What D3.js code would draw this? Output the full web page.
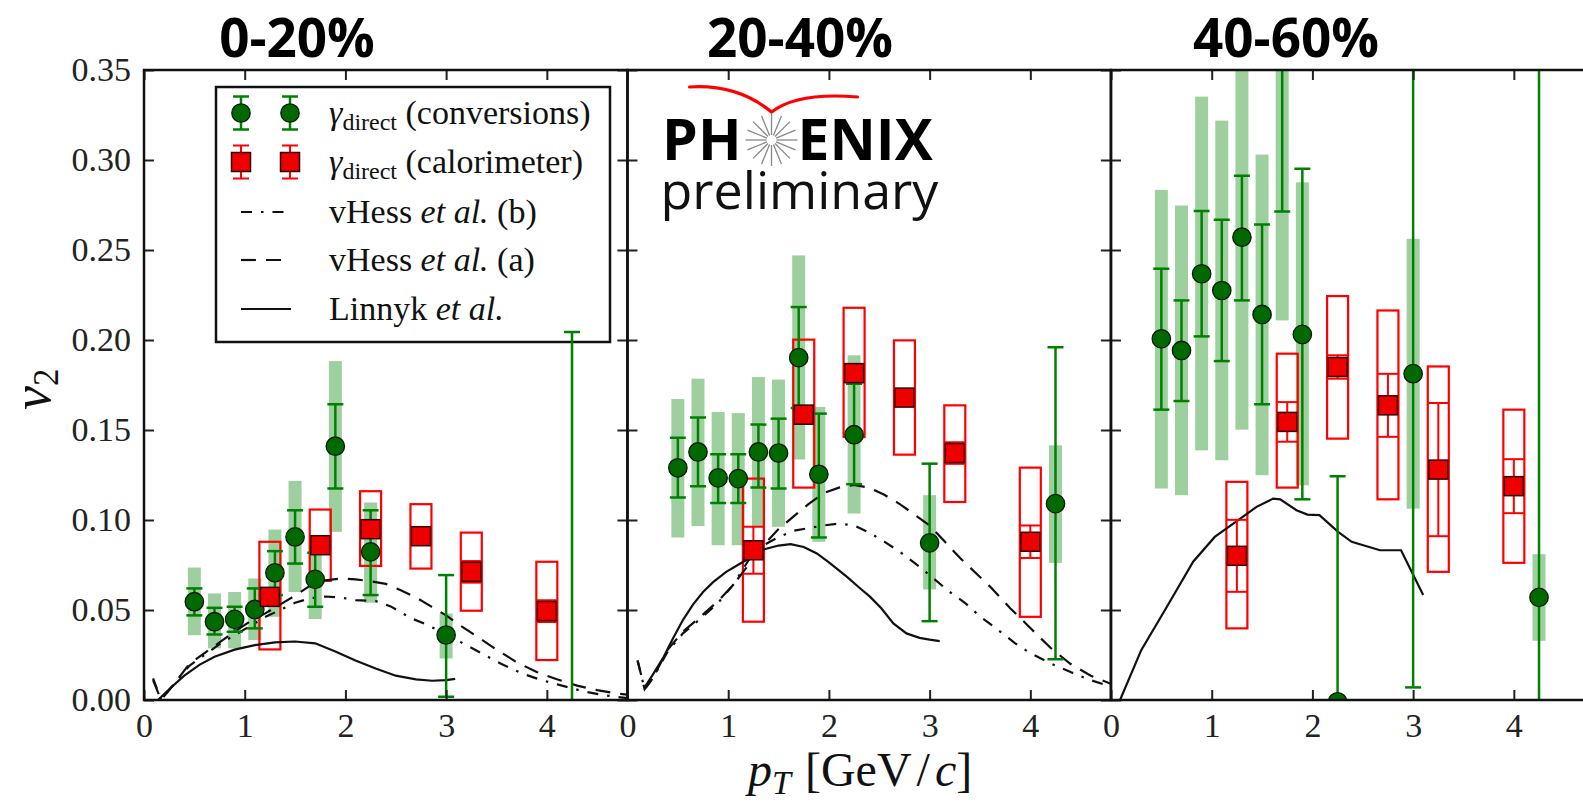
<!DOCTYPE html>
<html>
<head>
<meta charset="utf-8">
<script src="https://cdn.jsdelivr.net/npm/d3@7"></script>
<style>
  body { margin: 0; background: #fff; }
  svg { display: block; }
</style>
</head>
<body>
<svg id="chart" width="1583" height="803"></svg>
<script>
// ---- data (v2 vs pT, three centrality classes) ----
var panelTitles = ['0-20%', '20-40%', '40-60%'];
var xTicks = [0, 1, 2, 3, 4];
var yTicks = [0, 0.05, 0.10, 0.15, 0.20, 0.25, 0.30, 0.35];

// gamma direct, conversions (green circles)
var convPt = [
  [0.5, 0.7, 0.9, 1.1, 1.3, 1.5, 1.7, 1.9, 2.25, 3.0, 4.25],
  [0.5, 0.7, 0.9, 1.1, 1.3, 1.5, 1.7, 1.9, 2.25, 3.0, 4.25],
  [0.5, 0.7, 0.9, 1.1, 1.3, 1.5, 1.7, 1.9, 2.25, 3.0, 4.25]
];
var convV = [
  [0.0546, 0.0435, 0.0448, 0.0503, 0.0707, 0.0906, 0.067, 0.141, 0.0823, 0.0361, -0.05],
  [0.129, 0.1378, 0.1234, 0.123, 0.1378, 0.1372, 0.1902, 0.1254, 0.1474, 0.0873, 0.1091],
  [0.2007, 0.1942, 0.2368, 0.2275, 0.2571, 0.2142, 0.39, 0.2031, -0.001, 0.1813, 0.057]
];
var convStatLo = [
  [0.047, 0.0364, 0.0379, 0.0398, 0.0583, 0.0758, 0.0518, 0.1175, 0.0583, 0.0018, -0.3],
  [0.1125, 0.1188, 0.1095, 0.1095, 0.118, 0.1175, 0.1622, 0.0903, 0.1199, 0.0438, 0.0226],
  [0.1613, 0.1661, 0.202, 0.1883, 0.222, 0.1643, 0.2714, 0.1115, -0.126, 0.007, -0.3]
];
var convStatHi = [
  [0.062, 0.0512, 0.0518, 0.062, 0.0827, 0.1054, 0.0818, 0.1643, 0.1054, 0.0694, 0.2044],
  [0.1457, 0.1569, 0.1365, 0.1365, 0.153, 0.1563, 0.2183, 0.1591, 0.1757, 0.1313, 0.196],
  [0.2396, 0.222, 0.2716, 0.2668, 0.2913, 0.2642, 0.51, 0.2951, 0.1243, 0.36, 0.5]
];
var convSysLo = [
  [0.036, 0.0287, 0.0287, 0.0333, 0.0462, 0.060, 0.045, 0.0934, 0.054, 0.0231, -0.08],
  [0.0903, 0.0966, 0.086, 0.086, 0.0962, 0.0962, 0.1336, 0.0879, 0.1036, 0.0614, 0.0762],
  [0.1175, 0.1138, 0.1387, 0.1332, 0.1502, 0.1249, 0.2109, 0.1193, -0.001, 0.1063, 0.0329]
];
var convSysHi = [
  [0.0736, 0.0592, 0.060, 0.0675, 0.0947, 0.1217, 0.082, 0.1883, 0.1097, 0.048, -0.02],
  [0.1672, 0.1785, 0.16, 0.1594, 0.1794, 0.178, 0.247, 0.1628, 0.1915, 0.1138, 0.1415],
  [0.2834, 0.2747, 0.3352, 0.3219, 0.37, 0.303, 0.57, 0.2876, -0.001, 0.2562, 0.081]
];

// gamma direct, calorimeter (red squares)
var caloPt = [
  [1.25, 1.75, 2.25, 2.75, 3.25, 4.0],
  [1.25, 1.75, 2.25, 2.75, 3.25, 4.0],
  [1.25, 1.75, 2.25, 2.75, 3.25, 4.0]
];
var caloV = [
  [0.0573, 0.086, 0.0949, 0.091, 0.0712, 0.0494],
  [0.0832, 0.1585, 0.1816, 0.168, 0.1372, 0.0879],
  [0.0801, 0.1545, 0.185, 0.1637, 0.128, 0.1188]
];
var caloStat = [
  [0.004, 0.004, 0.004, 0.004, 0.006, 0.006],
  [0.013, 0.005, 0.005, 0.004, 0.006, 0.009],
  [0.02, 0.011, 0.0065, 0.0175, 0.037, 0.015]
];
var caloSysLo = [
  [0.0281, 0.0662, 0.0745, 0.073, 0.0496, 0.0222],
  [0.0435, 0.118, 0.1461, 0.1363, 0.110, 0.0462],
  [0.0398, 0.118, 0.1452, 0.1115, 0.0712, 0.0762]
];
var caloSysHi = [
  [0.0879, 0.1058, 0.116, 0.1088, 0.093, 0.0768],
  [0.123, 0.2002, 0.2179, 0.1998, 0.1637, 0.1291],
  [0.1212, 0.1924, 0.2244, 0.2164, 0.1853, 0.1613]
];

// model curves [pT, v2]
var linnyk = [
  [[0.14, 0], [0.25, 0.006], [0.4, 0.0135], [0.55, 0.0195], [0.7, 0.024], [0.9, 0.028], [1.1, 0.0305],
   [1.3, 0.032], [1.5, 0.0325], [1.7, 0.0315], [1.9, 0.027], [2.1, 0.022], [2.3, 0.0175], [2.5, 0.0135],
   [2.7, 0.0115], [2.86, 0.0107], [3.0, 0.011], [3.09, 0.0117]],
  [[0.17, 0.007], [0.25, 0.014], [0.36, 0.024], [0.45, 0.034], [0.55, 0.0444], [0.65, 0.053], [0.75, 0.06],
   [0.85, 0.0655], [0.98, 0.0712], [1.15, 0.0768], [1.35, 0.0836], [1.5, 0.0858], [1.62, 0.0866],
   [1.75, 0.085], [1.88, 0.0814], [2.0, 0.0765], [2.18, 0.0684], [2.3, 0.0625], [2.41, 0.0573],
   [2.52, 0.051], [2.64, 0.0425], [2.77, 0.037], [2.9, 0.0345], [3.0, 0.0335], [3.1, 0.0327]],
  [[0.09, 0], [0.3, 0.0277], [0.536, 0.05], [0.816, 0.0768], [1.03, 0.0906], [1.263, 0.0999],
   [1.445, 0.1073], [1.61, 0.1119], [1.68, 0.1115], [1.842, 0.1054], [1.95, 0.103], [2.07, 0.1027],
   [2.255, 0.0934], [2.39, 0.0879], [2.67, 0.0832], [2.88, 0.0832], [3.1, 0.0583]]
];
var vHessA = [
  [[0.09, 0.011], [0.17, 0.0], [0.3, 0.009], [0.45, 0.02], [0.6, 0.026], [0.75, 0.032], [0.9, 0.038],
   [1.05, 0.0435], [1.2, 0.048], [1.35, 0.053], [1.5, 0.058], [1.65, 0.0635], [1.8, 0.0665], [1.95, 0.0675],
   [2.1, 0.067], [2.25, 0.066], [2.4, 0.0645], [2.55, 0.061], [2.7, 0.057], [2.85, 0.052], [3.0, 0.047],
   [3.15, 0.041], [3.3, 0.0355], [3.5, 0.028], [3.7, 0.021], [3.9, 0.0155], [4.1, 0.0115], [4.3, 0.008],
   [4.5, 0.0055], [4.7, 0.0035], [4.8, 0.003]],
  [[0.1, 0.022], [0.17, 0.006], [0.25, 0.012], [0.4, 0.028], [0.55, 0.038], [0.7, 0.045], [0.9, 0.055],
   [1.05, 0.064], [1.2, 0.075], [1.35, 0.086], [1.5, 0.095], [1.65, 0.102], [1.8, 0.109], [1.95, 0.115],
   [2.1, 0.118], [2.25, 0.1195], [2.4, 0.118], [2.55, 0.114], [2.7, 0.109], [2.85, 0.103], [3.0, 0.097],
   [3.15, 0.088], [3.3, 0.079], [3.45, 0.071], [3.6, 0.063], [3.8, 0.051], [4.0, 0.04], [4.2, 0.029],
   [4.4, 0.02], [4.6, 0.0135], [4.8, 0.009]],
  []
];
var vHessB = [
  [[0.09, 0.012], [0.17, 0.0], [0.3, 0.009], [0.45, 0.019], [0.6, 0.025], [0.75, 0.031], [0.9, 0.036],
   [1.05, 0.041], [1.2, 0.046], [1.35, 0.05], [1.5, 0.054], [1.65, 0.0565], [1.8, 0.0575], [1.95, 0.057],
   [2.1, 0.0555], [2.3, 0.055], [2.45, 0.052], [2.65, 0.0455], [2.8, 0.042], [2.95, 0.038], [3.15, 0.032],
   [3.35, 0.026], [3.55, 0.02], [3.75, 0.0148], [3.95, 0.011], [4.15, 0.008], [4.35, 0.005],
   [4.55, 0.0028], [4.8, 0.001]],
  [[0.1, 0.022], [0.17, 0.006], [0.25, 0.012], [0.4, 0.027], [0.55, 0.037], [0.7, 0.044], [0.9, 0.054],
   [1.05, 0.064], [1.2, 0.0775], [1.35, 0.086], [1.5, 0.0905], [1.65, 0.094], [1.8, 0.0955], [1.95, 0.097],
   [2.1, 0.098], [2.25, 0.097], [2.4, 0.093], [2.55, 0.088], [2.7, 0.0825], [2.9, 0.074], [3.05, 0.067],
   [3.2, 0.06], [3.35, 0.054], [3.5, 0.0465], [3.7, 0.038], [3.85, 0.0315], [4.0, 0.026], [4.2, 0.0204],
   [4.4, 0.0155], [4.6, 0.011], [4.8, 0.0075]],
  []
];

// ---- layout ----
var plotTop = 70, plotBottom = 700;
var panelLeft = [144, 627.5, 1111];
var panelWidth = 483.4;
var titleCenter = [297, 800, 1286];

var GREEN = '#008000', DARKGREEN = '#006a00', RED = '#ff0000';
var SERIF = '"Liberation Serif", "DejaVu Serif", serif';
var SANS = '"Open Sans", "DejaVu Sans", sans-serif';

var svg = d3.select('#chart');
var defs = svg.append('defs');

var y = d3.scaleLinear().domain([0, 0.35]).range([plotBottom, plotTop]);

// ---- legend (drawn first, the data sits on top of it) ----
var leg = svg.append('g');
leg.append('rect').attr('x', 216).attr('y', 87).attr('width', 394).attr('height', 255)
  .attr('fill', '#fff').attr('stroke', '#111').attr('stroke-width', 2.5);

var legRows = [113, 162, 212, 260, 309];
var legMarkX = [241, 290];

legMarkX.forEach(function(mx) {
  // green circle with error bar
  [[mx, mx, legRows[0] - 16.5, legRows[0] + 16.5], [mx - 8, mx + 8, legRows[0] - 16.5, legRows[0] - 16.5],
   [mx - 8, mx + 8, legRows[0] + 16.5, legRows[0] + 16.5]].forEach(function(l) {
    leg.append('line').attr('x1', l[0]).attr('x2', l[1]).attr('y1', l[2]).attr('y2', l[3])
      .attr('stroke', GREEN).attr('stroke-width', 2.5);
  });
  leg.append('circle').attr('cx', mx).attr('cy', legRows[0]).attr('r', 9.2)
    .attr('fill', DARKGREEN).attr('stroke', '#0a1a0a').attr('stroke-width', 1.3);
  // red square with error bar
  [[mx, mx, legRows[1] - 16.5, legRows[1] + 16.5], [mx - 8, mx + 8, legRows[1] - 16.5, legRows[1] - 16.5],
   [mx - 8, mx + 8, legRows[1] + 16.5, legRows[1] + 16.5]].forEach(function(l) {
    leg.append('line').attr('x1', l[0]).attr('x2', l[1]).attr('y1', l[2]).attr('y2', l[3])
      .attr('stroke', RED).attr('stroke-width', 2);
  });
  leg.append('rect').attr('x', mx - 9.5).attr('y', legRows[1] - 9.5).attr('width', 19).attr('height', 19)
    .attr('fill', '#ee0000').attr('stroke', '#300').attr('stroke-width', 1.5);
});

var legDash = [['11,9,2.5,9', 2], ['15,10', 3], [null, 4]];
legDash.forEach(function(d) {
  var l = leg.append('line').attr('x1', 241).attr('x2', 291)
    .attr('y1', legRows[d[1]]).attr('y2', legRows[d[1]])
    .attr('stroke', '#111').attr('stroke-width', 2.2);
  if (d[0]) l.attr('stroke-dasharray', d[0]);
});

function legText(row) {
  return leg.append('text').attr('x', 329).attr('y', legRows[row] + 11)
    .attr('font-family', SERIF).attr('font-size', 34).attr('fill', '#111');
}
var t0 = legText(0);
t0.append('tspan').attr('font-style', 'italic').text('\u03b3');
t0.append('tspan').attr('font-size', 24).attr('dy', 6).text('direct');
t0.append('tspan').attr('dy', -6).text(' (conversions)');
var t1 = legText(1);
t1.append('tspan').attr('font-style', 'italic').text('\u03b3');
t1.append('tspan').attr('font-size', 24).attr('dy', 6).text('direct');
t1.append('tspan').attr('dy', -6).text(' (calorimeter)');
var t2 = legText(2);
t2.append('tspan').text('vHess ');
t2.append('tspan').attr('font-style', 'italic').text('et al.');
t2.append('tspan').text(' (b)');
var t3 = legText(3);
t3.append('tspan').text('vHess ');
t3.append('tspan').attr('font-style', 'italic').text('et al.');
t3.append('tspan').text(' (a)');
var t4 = legText(4);
t4.append('tspan').text('Linnyk ');
t4.append('tspan').attr('font-style', 'italic').text('et al.');

panelTitles.forEach(function(title, p) {
  var x = d3.scaleLinear().domain([0, 4.8]).range([panelLeft[p], panelLeft[p] + panelWidth]);

  defs.append('clipPath').attr('id', 'clip' + p)
    .append('rect')
    .attr('x', x(0)).attr('y', plotTop)
    .attr('width', panelWidth).attr('height', plotBottom - plotTop);

  var g = svg.append('g').attr('clip-path', 'url(#clip' + p + ')');

  var conv = convPt[p].map(function(d, i) {
    return { pt: d, v: convV[p][i], lo: convStatLo[p][i], hi: convStatHi[p][i],
             slo: convSysLo[p][i], shi: convSysHi[p][i] };
  });
  var calo = caloPt[p].map(function(d, i) {
    return { pt: d, v: caloV[p][i], e: caloStat[p][i], slo: caloSysLo[p][i], shi: caloSysHi[p][i] };
  });

  // systematic bands, conversions
  g.selectAll('.band').data(conv).enter().append('rect')
    .attr('x', function(d) { return x(d.pt) - 6.5; })
    .attr('width', 13)
    .attr('y', function(d) { return y(d.shi); })
    .attr('height', function(d) { return y(d.slo) - y(d.shi); })
    .attr('fill', 'rgba(0,128,0,0.38)');

  // systematic boxes, calorimeter
  g.selectAll('.sysbox').data(calo).enter().append('rect')
    .attr('x', function(d) { return x(d.pt) - 10.5; })
    .attr('width', 21)
    .attr('y', function(d) { return y(d.shi); })
    .attr('height', function(d) { return y(d.slo) - y(d.shi); })
    .attr('fill', 'none').attr('stroke', RED).attr('stroke-width', 2.2);

  // model curves
  var line = d3.line()
    .x(function(d) { return x(d[0]); })
    .y(function(d) { return y(d[1]); });

  g.append('path').datum(linnyk[p]).attr('d', line)
    .attr('fill', 'none').attr('stroke', '#111').attr('stroke-width', 2.2);
  if (vHessA[p].length) {
    g.append('path').datum(vHessA[p]).attr('d', line)
      .attr('fill', 'none').attr('stroke', '#111').attr('stroke-width', 2.2)
      .attr('stroke-dasharray', '15,10');
  }
  if (vHessB[p].length) {
    g.append('path').datum(vHessB[p]).attr('d', line)
      .attr('fill', 'none').attr('stroke', '#111').attr('stroke-width', 2.2)
      .attr('stroke-dasharray', '11,9,2.5,9');
  }

  // stat error bars, conversions
  var eb = g.selectAll('.ebg').data(conv).enter().append('g');
  eb.append('line')
    .attr('x1', function(d) { return x(d.pt); }).attr('x2', function(d) { return x(d.pt); })
    .attr('y1', function(d) { return y(d.lo); }).attr('y2', function(d) { return y(d.hi); });
  eb.append('line')
    .attr('x1', function(d) { return x(d.pt) - 8; }).attr('x2', function(d) { return x(d.pt) + 8; })
    .attr('y1', function(d) { return y(d.lo); }).attr('y2', function(d) { return y(d.lo); });
  eb.append('line')
    .attr('x1', function(d) { return x(d.pt) - 8; }).attr('x2', function(d) { return x(d.pt) + 8; })
    .attr('y1', function(d) { return y(d.hi); }).attr('y2', function(d) { return y(d.hi); });
  eb.selectAll('line').attr('stroke', GREEN).attr('stroke-width', 2.5);

  // stat error bars, calorimeter
  var ebr = g.selectAll('.ebr').data(calo).enter().append('g');
  ebr.append('line')
    .attr('x1', function(d) { return x(d.pt); }).attr('x2', function(d) { return x(d.pt); })
    .attr('y1', function(d) { return y(d.v - d.e); }).attr('y2', function(d) { return y(d.v + d.e); });
  ebr.append('line')
    .attr('x1', function(d) { return x(d.pt) - 10; }).attr('x2', function(d) { return x(d.pt) + 10; })
    .attr('y1', function(d) { return y(d.v - d.e); }).attr('y2', function(d) { return y(d.v - d.e); });
  ebr.append('line')
    .attr('x1', function(d) { return x(d.pt) - 10; }).attr('x2', function(d) { return x(d.pt) + 10; })
    .attr('y1', function(d) { return y(d.v + d.e); }).attr('y2', function(d) { return y(d.v + d.e); });
  ebr.selectAll('line').attr('stroke', RED).attr('stroke-width', 2);

  // markers
  g.selectAll('.dot').data(conv).enter().append('circle')
    .attr('cx', function(d) { return x(d.pt); })
    .attr('cy', function(d) { return y(d.v); })
    .attr('r', 9.2)
    .attr('fill', DARKGREEN).attr('stroke', '#0a1a0a').attr('stroke-width', 1.3);

  g.selectAll('.sq').data(calo).enter().append('rect')
    .attr('x', function(d) { return x(d.pt) - 9.5; })
    .attr('y', function(d) { return y(d.v) - 9.5; })
    .attr('width', 19).attr('height', 19)
    .attr('fill', '#ee0000').attr('stroke', '#300').attr('stroke-width', 1.5);

  // axes, ticks pointing inwards
  var ax = svg.append('g').attr('transform', 'translate(0,' + plotBottom + ')')
    .call(d3.axisBottom(x).tickValues(xTicks).tickSize(-10).tickSizeOuter(0).tickPadding(13)
      .tickFormat(d3.format('d')));
  ax.select('.domain').remove();
  ax.selectAll('text').attr('font-family', SERIF).attr('font-size', 34).attr('fill', '#222');

  var axt = svg.append('g').attr('transform', 'translate(0,' + plotTop + ')')
    .call(d3.axisTop(x).tickValues(xTicks).tickSize(-10).tickSizeOuter(0).tickFormat(''));
  axt.select('.domain').remove();

  var ayl = svg.append('g').attr('transform', 'translate(' + x(0) + ',0)')
    .call(d3.axisLeft(y).tickValues(yTicks).tickSize(-10).tickSizeOuter(0).tickPadding(13)
      .tickFormat(p === 0 ? d3.format('.2f') : function() { return ''; }));
  ayl.select('.domain').remove();
  ayl.selectAll('text').attr('font-family', SERIF).attr('font-size', 34).attr('fill', '#222');

  var ayr = svg.append('g').attr('transform', 'translate(' + x(4.8) + ',0)')
    .call(d3.axisRight(y).tickValues(yTicks).tickSize(-10).tickSizeOuter(0).tickFormat(''));
  ayr.select('.domain').remove();

  svg.selectAll('.tick line').attr('stroke', '#222').attr('stroke-width', 2);

  svg.append('rect')
    .attr('x', x(0)).attr('y', plotTop)
    .attr('width', panelWidth).attr('height', plotBottom - plotTop)
    .attr('fill', 'none').attr('stroke', '#111').attr('stroke-width', 2.5);

  // centrality title
  svg.append('text')
    .attr('x', titleCenter[p]).attr('y', 57)
    .attr('text-anchor', 'middle')
    .attr('font-family', SANS).attr('font-weight', 700).attr('font-size', 53)
    .attr('fill', '#000')
    .text(title);
});

// ---- axis labels ----
var xl = svg.append('text').attr('x', 748).attr('y', 786)
  .attr('font-family', SERIF).attr('font-size', 48).attr('fill', '#111');
xl.append('tspan').attr('font-style', 'italic').text('p');
xl.append('tspan').attr('font-style', 'italic').attr('font-size', 34).attr('dy', 8).text('T');
xl.append('tspan').attr('dy', -8).attr('dx', 14).text('[GeV');
xl.append('tspan').attr('dx', 5).text('/');
xl.append('tspan').attr('font-style', 'italic').attr('dx', 5).text('c');
xl.append('tspan').text(']');

var yl = svg.append('text').attr('transform', 'translate(50,410) rotate(-90)')
  .attr('font-family', SERIF).attr('font-size', 54).attr('fill', '#111');
yl.append('tspan').attr('font-style', 'italic').text('v');
yl.append('tspan').attr('font-size', 35).attr('dy', 8).text('2');

// ---- PHENIX preliminary logo (middle panel) ----
var lx = panelLeft[1];
var logo = svg.append('g').attr('transform', 'translate(' + lx + ',0)');
logo.append('path')
  .attr('d', 'M62,87 Q110,84 144,112 Q170,92 230,97')
  .attr('fill', 'none').attr('stroke', RED).attr('stroke-width', 3.2).attr('stroke-linecap', 'round');
logo.append('text').attr('x', 114).attr('y', 160).attr('text-anchor', 'end')
  .attr('font-family', SANS).attr('font-weight', 700).attr('font-size', 57).attr('fill', '#000')
  .text('PH');
logo.append('text').attr('x', 170).attr('y', 160)
  .attr('font-family', SANS).attr('font-weight', 700).attr('font-size', 57).attr('fill', '#000')
  .text('ENIX');
d3.range(16).forEach(function(k) {
  var a = k * Math.PI / 8;
  logo.append('line')
    .attr('x1', 144 + 5 * Math.cos(a)).attr('y1', 140 + 5 * Math.sin(a))
    .attr('x2', 144 + 26 * Math.cos(a)).attr('y2', 140 + 26 * Math.sin(a))
    .attr('stroke', '#888').attr('stroke-width', 1.3);
});
logo.append('text').attr('x', 33).attr('y', 209)
  .attr('font-family', SANS).attr('font-size', 52).attr('fill', '#111')
  .text('preliminary');
</script>
</body>
</html>
